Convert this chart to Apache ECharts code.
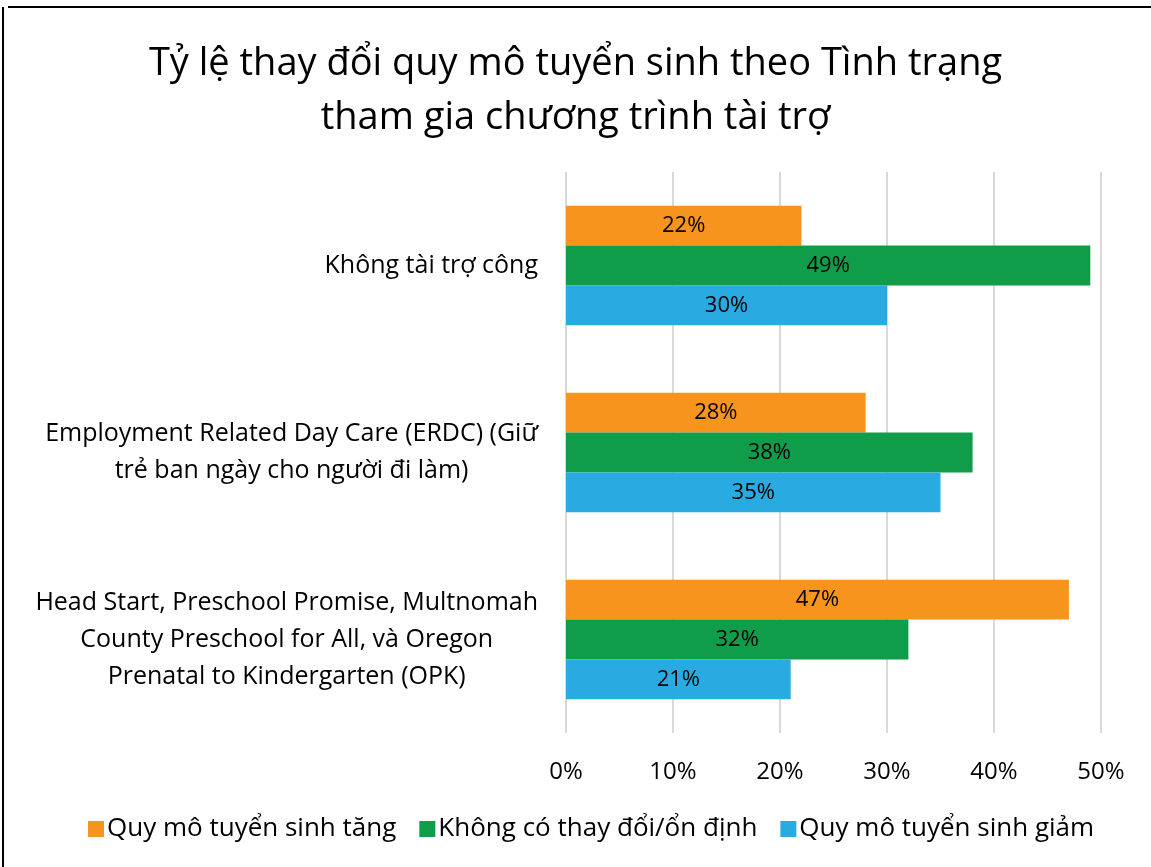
<!DOCTYPE html>
<html>
<head>
<meta charset="utf-8">
<script src="https://cdn.jsdelivr.net/npm/echarts@6/dist/echarts.min.js"></script>
<style>
html,body{margin:0;padding:0;background:#fff;}
#chart{width:1151px;height:867px;}
</style>
</head>
<body>
<div id="chart"></div>
<script>
const categories = [
  "Không tài trợ công",
  "Employment Related Day Care (ERDC) (Giữ\ntrẻ ban ngày cho người đi làm)",
  "Head Start, Preschool Promise, Multnomah\nCounty Preschool for All, và Oregon\nPrenatal to Kindergarten (OPK)"
];
const seriesNames = ["Quy mô tuyển sinh tăng", "Không có thay đổi/ổn định", "Quy mô tuyển sinh giảm"];
const increased = [22, 28, 47];
const noChange = [49, 38, 32];
const decreased = [30, 35, 21];
const xTicks = [0, 10, 20, 30, 40, 50];

const FONT = "Open Sans";
const colors = ["#F7941D", "#0F9D4A", "#29ABE2"];
const values = [increased, noChange, decreased];

const chart = echarts.init(document.getElementById('chart'), null, {renderer: 'canvas'});
chart.setOption({
  animation: false,
  textStyle: {fontFamily: FONT},
  title: {
    text: "Tỷ lệ thay đổi quy mô tuyển sinh theo Tình trạng\ntham gia chương trình tài trợ",
    left: 'center',
    top: 32,
    textStyle: {fontFamily: FONT, fontSize: 38, fontWeight: 'normal', color: '#000', lineHeight: 54}
  },
  graphic: [
    {type: 'line', shape: {x1: 8, y1: 7, x2: 1151, y2: 7}, style: {stroke: '#000', lineWidth: 2}},
    {type: 'line', shape: {x1: 3, y1: 7, x2: 3, y2: 867}, style: {stroke: '#000', lineWidth: 2}}
  ],
  legend: {
    data: seriesNames,
    bottom: 20,
    left: 83,
    itemWidth: 16,
    itemHeight: 16,
    itemGap: 23,
    icon: 'rect',
    textStyle: {fontFamily: FONT, fontSize: 26, color: '#000', padding: [0, 0, 0, -2]}
  },
  grid: {left: 566, right: 50, top: 172, bottom: 134, containLabel: false},
  xAxis: {
    type: 'value',
    min: xTicks[0],
    max: xTicks[xTicks.length - 1],
    interval: 10,
    axisLine: {show: false},
    axisTick: {show: false},
    splitLine: {show: true, lineStyle: {color: '#d9d9d9', width: 2}},
    axisLabel: {formatter: '{value}%', fontFamily: FONT, fontSize: 24, color: '#000', margin: 27}
  },
  yAxis: {
    type: 'category',
    data: categories,
    inverse: true,
    axisLine: {show: false},
    axisTick: {show: false},
    axisLabel: {
      margin: 28,
      align: 'right',
      formatter: function (v) { return '{a|' + v.split('\n').join('}\n{a|') + '}'; },
      rich: {a: {fontFamily: FONT, fontSize: 25, color: '#000', lineHeight: 37, align: 'center'}}
    }
  },
  series: seriesNames.map((name, i) => ({
    name: name,
    type: 'bar',
    data: values[i],
    barGap: '0%',
    barCategoryGap: '36%',
    itemStyle: {color: colors[i]},
    label: {show: true, position: 'inside', formatter: '{c}%', fontFamily: FONT, fontSize: 22, color: '#000'}
  }))
});
</script>
</body>
</html>
